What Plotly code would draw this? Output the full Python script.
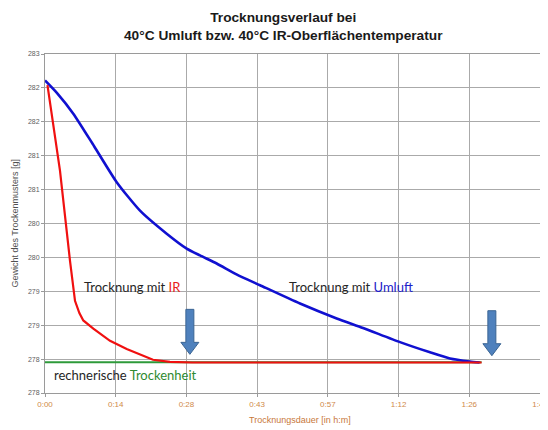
import plotly.graph_objects as go

# ---- data (minutes, grams) ----
umluft_t = [0, 2.5, 5.76, 10.0, 14.6, 19.35, 24.78, 28.86, 31.56, 34.96, 39.0, 43.78, 51.93, 59.4, 64.76, 72.29, 78.4, 82.47, 86.5, 88.5]
umluft_g = [282.41, 282.22, 281.92, 281.44, 280.91, 280.49, 280.15, 279.93, 279.83, 279.71, 279.55, 279.39, 279.12, 278.90, 278.76, 278.55, 278.40, 278.31, 278.265, 278.25]

ir_t = [0.5, 3.05, 5.09, 6.11, 7.0, 7.80, 9.84, 13.24, 16.64, 20.02, 21.99, 25.45, 30.0, 40.0, 88.9]
ir_g = [282.34, 281.08, 279.75, 279.16, 278.98, 278.87, 278.75, 278.57, 278.45, 278.35, 278.29, 278.26, 278.25, 278.25, 278.25]

trocken_t = [0, 88.9]
trocken_g = [278.255, 278.255]

x_tickvals = [0, 14.4, 28.8, 43.2, 57.6, 72.0, 86.4, 100.8]
x_ticktext = ["0:00", "0:14", "0:28", "0:43", "0:57", "1:12", "1:26", "1:40"]
y_tickvals = [277.8, 278.3, 278.8, 279.3, 279.8, 280.3, 280.8, 281.3, 281.8, 282.3, 282.8]
y_ticktext = [str(round(v)) for v in y_tickvals]

arrow_x = [29.5, 91.0]
arrow_y = [278.37, 278.35]

fig = go.Figure()
fig.add_trace(go.Scatter(x=trocken_t, y=trocken_g, mode="lines",
                         line=dict(color="#2e9a3a", width=2), showlegend=False))
fig.add_trace(go.Scatter(x=umluft_t, y=umluft_g, mode="lines", line_shape="spline",
                         line=dict(color="#1010d0", width=2.6, smoothing=0.6), showlegend=False))
fig.add_trace(go.Scatter(x=ir_t, y=ir_g, mode="lines",
                         line=dict(color="#f01010", width=2.2), showlegend=False))

arrow_path = "M -4,12 L -4,45 L 4,45 L 4,12 L 9,12 L 0,0 L -9,12 Z"
shapes = []
for ax_, ay_ in zip(arrow_x, arrow_y):
    shapes.append(dict(type="path", xref="x", yref="y", xsizemode="pixel", ysizemode="pixel",
                       xanchor=ax_, yanchor=ay_, path=arrow_path,
                       fillcolor="#4f81bd", line=dict(color="#3b6593", width=1), layer="above"))

anno_font = "Lato, 'Open Sans', sans-serif"
base_font = "Liberation Sans, Arial, sans-serif"
annotations = [
    dict(x=17.9, y=279.37, xref="x", yref="y", showarrow=False,
         text="Trocknung mit <span style='color:#e8201a'>IR</span>",
         font=dict(family=anno_font, size=13, color="#262626")),
    dict(x=62.3, y=279.37, xref="x", yref="y", showarrow=False,
         text="Trocknung mit <span style='color:#2020c8'>Umluft</span>",
         font=dict(family=anno_font, size=13, color="#262626")),
    dict(x=16.3, y=278.07, xref="x", yref="y", showarrow=False,
         text="rechnerische <span style='color:#2e8a30'>Trockenheit</span>",
         font=dict(family=anno_font, size=13, color="#262626")),
    dict(x=(283 - 45) / 495, y=1, xref="paper", yref="paper", yanchor="middle", yshift=28,
         xanchor="center", showarrow=False,
         text="<b>Trocknungsverlauf bei<br>40°C Umluft bzw. 40°C IR-Oberflächentemperatur</b>",
         font=dict(family=base_font, size=13.7, color="#1a1a1a")),
    dict(x=(300 - 45) / 495, y=0, xref="paper", yref="paper", yanchor="middle", yshift=-27,
         xanchor="center", showarrow=False, text="Trocknungsdauer [in h:m]",
         font=dict(family=base_font, size=9, color="#c8783a")),
    dict(x=0, y=0.5, xref="paper", yref="paper", xanchor="center", xshift=-31,
         yanchor="middle", textangle=-90, showarrow=False, text="Gewicht des Trockenmusters [g]",
         font=dict(family=base_font, size=9, color="#505050")),
]

# the page body adds an 8px offset, so the margins compensate
fig.update_layout(
    width=548, height=422,
    margin=dict(l=37, r=16, t=46, b=37, autoexpand=False),
    paper_bgcolor="white", plot_bgcolor="white",
    shapes=shapes,
    annotations=annotations,
    font=dict(family=base_font),
)
fig.update_xaxes(range=[0, 100.801], tickvals=x_tickvals, ticktext=x_ticktext, automargin=False,
                 ticklabeloverflow="allow",
                 showgrid=True, gridcolor="#aaaaaa", gridwidth=1,
                 showline=True, linecolor="#9a9a9a", mirror=True, zeroline=False,
                 ticks="outside", ticklen=3, tickcolor="#9a9a9a",
                 tickfont=dict(size=8, color="#d08a4a"))
fig.update_yaxes(range=[277.8, 282.8], tickvals=y_tickvals, ticktext=y_ticktext, automargin=False,
                 showgrid=True, gridcolor="#aaaaaa", gridwidth=1,
                 showline=True, linecolor="#9a9a9a", mirror=True, zeroline=False,
                 ticks="outside", ticklen=3, tickcolor="#9a9a9a",
                 tickfont=dict(size=7, color="#606060"))

fig.write_html("out.html")
